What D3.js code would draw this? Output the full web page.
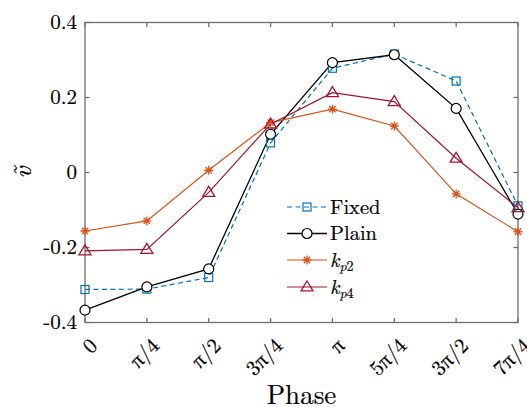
<!DOCTYPE html>
<html><head><meta charset="utf-8">
<script src="https://cdn.jsdelivr.net/npm/d3@7"></script>
<style>body{margin:0;background:#fff}svg{display:block}</style>
</head><body>
<svg id="c" width="527" height="407"></svg>
<script>
const categories = ["0","π/4","π/2","3π/4","π","5π/4","3π/2","7π/4"];
const fixedVals = [-0.312,-0.311,-0.280,0.079,0.278,0.316,0.244,-0.089];
const plainVals = [-0.367,-0.305,-0.257,0.102,0.293,0.314,0.171,-0.111];
const kp2Vals   = [-0.156,-0.129,0.006,0.133,0.169,0.124,-0.057,-0.158];
const kp4Vals   = [-0.209,-0.205,-0.053,0.129,0.213,0.189,0.038,-0.094];
const yTicks = [-0.4,-0.2,0,0.2,0.4];
const yTickLabels = ["-0.4","-0.2","0","0.2","0.4"];

const FONT = "Latin Modern Roman, CMU Serif, Liberation Serif, serif";
const TXT = "#000";
const svg = d3.select("#c");
const L=85, R=518, T=22.5, B=322.5;
const x = d3.scalePoint().domain(categories).range([L,R]);
const y = d3.scaleLinear().domain([-0.4,0.4]).range([B,T]);

const series = [
  {name:"Fixed", vals:fixedVals, color:"#0072BD", dash:"5,3.5", marker:"square", width:1.2},
  {name:"Plain", vals:plainVals, color:"#000000", dash:null, marker:"circle", width:1.3},
  {name:"kp2", vals:kp2Vals, color:"#D95319", dash:null, marker:"star", width:1.2},
  {name:"kp4", vals:kp4Vals, color:"#A2142F", dash:null, marker:"triangle", width:1.2}
];

function drawMarker(g, type, cx, cy, color){
  if(type==="square"){
    g.append("rect").attr("x",cx-4).attr("y",cy-4).attr("width",8).attr("height",8)
     .attr("fill","none").attr("stroke",color).attr("stroke-width",1.2);
  } else if(type==="circle"){
    g.append("circle").attr("cx",cx).attr("cy",cy).attr("r",5)
     .attr("fill","#fff").attr("stroke",color).attr("stroke-width",1.2);
  } else if(type==="triangle"){
    const s=6;
    g.append("path").attr("d",`M${cx},${cy-s}L${cx+s*1.0},${cy+s*0.65}L${cx-s*1.0},${cy+s*0.65}Z`)
     .attr("fill","none").attr("stroke",color).attr("stroke-width",1.3);
  } else if(type==="star"){
    const r=4.5; let d="";
    for(let i=0;i<4;i++){const a=i*Math.PI/4;d+=`M${cx-r*Math.cos(a)},${cy-r*Math.sin(a)}L${cx+r*Math.cos(a)},${cy+r*Math.sin(a)}`;}
    g.append("path").attr("d",d).attr("stroke",color).attr("stroke-width",1.3).attr("fill","none");
  }
}
function txt(sel){ return sel.append("text").attr("font-family",FONT).attr("fill",TXT)
  .attr("stroke",TXT).attr("stroke-width",0.2); }

const axColor="#707070";
const ax = svg.append("g");
ax.append("rect").attr("x",L).attr("y",T).attr("width",R-L).attr("height",B-T)
  .attr("fill","none").attr("stroke",axColor).attr("stroke-width",1.3);

categories.forEach(c=>{
  const px=x(c);
  ax.append("line").attr("x1",px).attr("x2",px).attr("y1",B).attr("y2",B-4.5).attr("stroke",axColor).attr("stroke-width",1.3);
  ax.append("line").attr("x1",px).attr("x2",px).attr("y1",T).attr("y2",T+4.5).attr("stroke",axColor).attr("stroke-width",1.3);
  txt(svg).attr("transform",`translate(${px+9},${B+20}) rotate(-45)`)
    .attr("text-anchor","end").attr("dy","0.3em").attr("font-size",21).text(c);
});
yTicks.forEach((v,i)=>{
  const py=y(v);
  ax.append("line").attr("x1",L).attr("x2",L+4.5).attr("y1",py).attr("y2",py).attr("stroke",axColor).attr("stroke-width",1.3);
  ax.append("line").attr("x1",R).attr("x2",R-4.5).attr("y1",py).attr("y2",py).attr("stroke",axColor).attr("stroke-width",1.3);
  txt(svg).attr("x",L-8).attr("y",py).attr("dy","0.33em").attr("text-anchor","end")
    .attr("font-size",21).text(yTickLabels[i]);
});

txt(svg).attr("x",301.5).attr("y",404).attr("text-anchor","middle").attr("font-size",27).text("Phase");
txt(svg).attr("transform",`translate(31,${y(0)}) rotate(-90)`).attr("text-anchor","middle")
  .attr("font-size",26).attr("font-style","italic").text("ṽ");

const line = d3.line().x((d,i)=>x(categories[i])).y(d=>y(d));
const plot = svg.append("g");
series.forEach(s=>{
  plot.append("path").attr("d",line(s.vals)).attr("fill","none").attr("stroke",s.color)
    .attr("stroke-width",s.width).attr("stroke-dasharray",s.dash);
});
series.forEach(s=>{
  s.vals.forEach((v,i)=>drawMarker(plot,s.marker,x(categories[i]),y(v),s.color));
});

const lg = svg.append("g");
const rowY=[207,233.5,260,287];
series.forEach((s,i)=>{
  const yy=rowY[i];
  lg.append("line").attr("x1",287).attr("x2",327).attr("y1",yy).attr("y2",yy).attr("stroke",s.color)
    .attr("stroke-width",s.width).attr("stroke-dasharray",s.dash);
  drawMarker(lg,s.marker,307,yy,s.color);
  const t=txt(lg).attr("x",330).attr("y",yy).attr("dy","0.33em").attr("font-size",20.5);
  if(s.name==="kp2"||s.name==="kp4"){
    t.append("tspan").attr("font-style","italic").text("k");
    t.append("tspan").attr("font-size",14).attr("dy","0.3em").attr("font-style","italic").text("p");
    t.append("tspan").attr("font-size",14).text(s.name.slice(2));
  } else t.text(s.name);
});
</script>
</body></html>
